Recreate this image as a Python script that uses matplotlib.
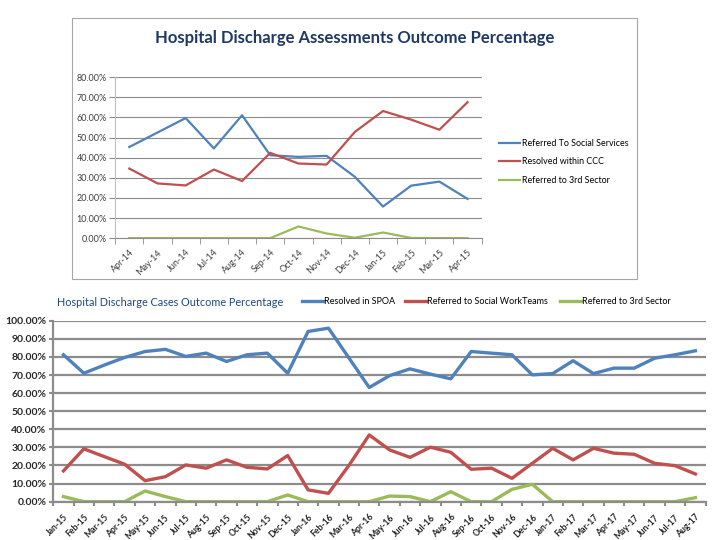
import matplotlib
matplotlib.use("Agg")
import matplotlib.pyplot as plt
import numpy as np
from matplotlib.patches import Rectangle

plt.rcParams['font.family'] = ['Lato', 'DejaVu Sans']

# ---- datos grafica superior ----
meses_a = ['Apr-14', 'May-14', 'Jun-14', 'Jul-14', 'Aug-14', 'Sep-14', 'Oct-14',
           'Nov-14', 'Dec-14', 'Jan-15', 'Feb-15', 'Mar-15', 'Apr-15']
social_services = [45.3, 52.5, 59.7, 44.6, 61.1, 41.2, 40.4, 40.9, 30.5, 15.7, 26.1, 28.1, 19.5]
resolved_ccc = [34.6, 27.2, 26.2, 34.1, 28.4, 42.4, 37.1, 36.6, 52.8, 63.2, 58.9, 53.9, 67.6]
third_sector_a = [0, 0, 0, 0, 0, 0, 5.8, 2.3, 0.2, 2.8, 0.1, 0, 0]
leyenda_a = ['Referred To Social Services', 'Resolved within CCC', 'Referred to 3rd Sector']
yticks_a = [0, 10, 20, 30, 40, 50, 60, 70, 80]

# ---- datos grafica inferior ----
meses_b = ['Jan-15', 'Feb-15', 'Mar-15', 'Apr-15', 'May-15', 'Jun-15', 'Jul-15', 'Aug-15',
           'Sep-15', 'Oct-15', 'Nov-15', 'Dec-15', 'Jan-16', 'Feb-16', 'Mar-16', 'Apr-16',
           'May-16', 'Jun-16', 'Jul-16', 'Aug-16', 'Sep-16', 'Oct-16', 'Nov-16', 'Dec-16',
           'Jan-17', 'Feb-17', 'Mar-17', 'Apr-17', 'May-17', 'Jun-17', 'Jul-17', 'Aug-17']
resolved_spoa = [81.2, 71.0, 75.5, 79.7, 83.0, 84.2, 80.3, 82.1, 77.5, 81.2, 82.1, 71.0,
                 94.1, 95.9, 79.5, 63.1, 69.7, 73.4, 70.5, 67.9, 83.0, 82.1, 81.2, 70.1,
                 70.8, 77.9, 70.8, 73.8, 73.8, 79.3, 81.2, 83.4]
social_work = [17.0, 29.2, 24.9, 20.7, 11.6, 13.8, 20.3, 18.5, 23.1, 19.0, 18.1, 25.5,
               6.5, 4.6, 20.0, 36.9, 28.6, 24.5, 30.1, 27.3, 17.9, 18.5, 12.9, 21.2,
               29.5, 23.1, 29.5, 26.8, 26.2, 21.2, 19.9, 15.3]
third_sector_b = [2.8, 0, 0, 0, 5.9, 2.8, 0, 0, 0, 0, 0, 3.7,
                  0, 0, 0, 0, 3.1, 2.8, 0, 5.5, 0, 0, 6.8, 9.6,
                  0, 0, 0, 0, 0, 0, 0, 2.2]
leyenda_b = ['Resolved in SPOA', 'Referred to Social WorkTeams', 'Referred to 3rd Sector']
yticks_b = [0, 10, 20, 30, 40, 50, 60, 70, 80, 90, 100]

azul = '#4F81BD'
rojo = '#C0504D'
verde = '#9BBB59'
gris = '#8C8C8C'

fig = plt.figure(figsize=(7.2, 5.4), dpi=100)

# marco de la grafica superior
fig.patches.append(Rectangle((0.1, 0.483), 0.785, 0.484, transform=fig.transFigure,
                             fill=False, edgecolor='#A6A6A6', linewidth=0.8))

# ---- grafica superior ----
ax1 = fig.add_axes([0.160, 0.559, 0.509, 0.298])
x1 = np.arange(len(meses_a))
l1, = ax1.plot(x1, social_services, color=azul, lw=1.6)
l2, = ax1.plot(x1, resolved_ccc, color=rojo, lw=1.6)
l3, = ax1.plot(x1, third_sector_a, color=verde, lw=1.6)
ax1.set_xlim(-0.5, len(meses_a) - 0.5)
ax1.set_ylim(0, 80)
ax1.set_yticks(yticks_a)
ax1.set_yticklabels(['%.2f%%' % v for v in yticks_a], fontsize=6.5, color='#404040')
ax1.set_xticks(x1)
ax1.set_xticklabels(meses_a, rotation=45, ha='right', rotation_mode='anchor',
                    fontsize=6.5, color='#404040')
ax1.set_xticks(np.arange(len(meses_a) + 1) - 0.5, minor=True)
ax1.tick_params(axis='x', which='major', length=0, pad=7)
ax1.tick_params(axis='x', which='minor', length=4, color=gris)
ax1.tick_params(axis='y', length=4, color=gris, pad=2)
ax1.grid(axis='y', color=gris, lw=0.8)
ax1.set_axisbelow(True)
for lado in ['top', 'right']:
    ax1.spines[lado].set_visible(False)
ax1.spines['left'].set_color('#BFBFBF')
ax1.spines['bottom'].set_color(gris)
fig.text(0.492, 0.929, 'Hospital Discharge Assessments Outcome Percentage',
         ha='center', va='center', fontsize=12, fontweight='bold', color='#1F3864')
ax1.legend([l1, l2, l3], leyenda_a, loc='center left', bbox_to_anchor=(0.693, 0.700),
           bbox_transform=fig.transFigure, frameon=False, fontsize=6.4,
           handlelength=2.4, handletextpad=0.15, labelspacing=1.05,
           borderpad=0, borderaxespad=0)

# ---- grafica inferior ----
ax2 = fig.add_axes([0.074, 0.071, 0.906, 0.335])
x2 = np.arange(len(meses_b))
m1, = ax2.plot(x2, resolved_spoa, color=azul, lw=2.4)
m2, = ax2.plot(x2, social_work, color=rojo, lw=2.4)
m3, = ax2.plot(x2, third_sector_b, color=verde, lw=2.4)
ax2.set_xlim(-0.5, len(meses_b) - 0.5)
ax2.set_ylim(0, 100)
ax2.set_yticks(yticks_b)
ax2.set_yticklabels(['%.2f%%' % v for v in yticks_b], fontsize=7.5, fontweight='bold',
                    color='#262626')
ax2.set_xticks(x2)
ax2.set_xticklabels(meses_b, rotation=45, ha='right', rotation_mode='anchor',
                    fontsize=6.2, fontweight='bold', color='#262626')
ax2.set_xticks(np.arange(len(meses_b) + 1) - 0.5, minor=True)
ax2.tick_params(axis='x', which='major', length=0, pad=8)
ax2.tick_params(axis='x', which='minor', length=3, color=gris, width=1.5)
ax2.tick_params(axis='y', length=3, color=gris, width=1.5, pad=2)
ax2.grid(axis='y', color=gris, lw=1.6)
ax2.set_axisbelow(True)
for lado in ['top', 'right']:
    ax2.spines[lado].set_visible(False)
ax2.spines['left'].set_color(gris)
ax2.spines['left'].set_linewidth(1.6)
ax2.spines['bottom'].set_color(gris)
ax2.spines['bottom'].set_linewidth(1.6)
fig.text(0.079, 0.440, 'Hospital Discharge Cases Outcome Percentage',
         ha='left', va='center', fontsize=7.8, color='#1F497D')

# leyenda inferior: una entrada por posicion
x_leyenda = [302 / 720, 405 / 720, 560 / 720]
for linea, texto, xl in zip([m1, m2, m3], leyenda_b, x_leyenda):
    fig.legend([linea], [texto], loc='center left', bbox_to_anchor=(xl, 0.441),
               frameon=False, fontsize=6.5, handlelength=2.3, handletextpad=0.15,
               borderpad=0, borderaxespad=0)

fig.savefig('out.png', dpi=100)
